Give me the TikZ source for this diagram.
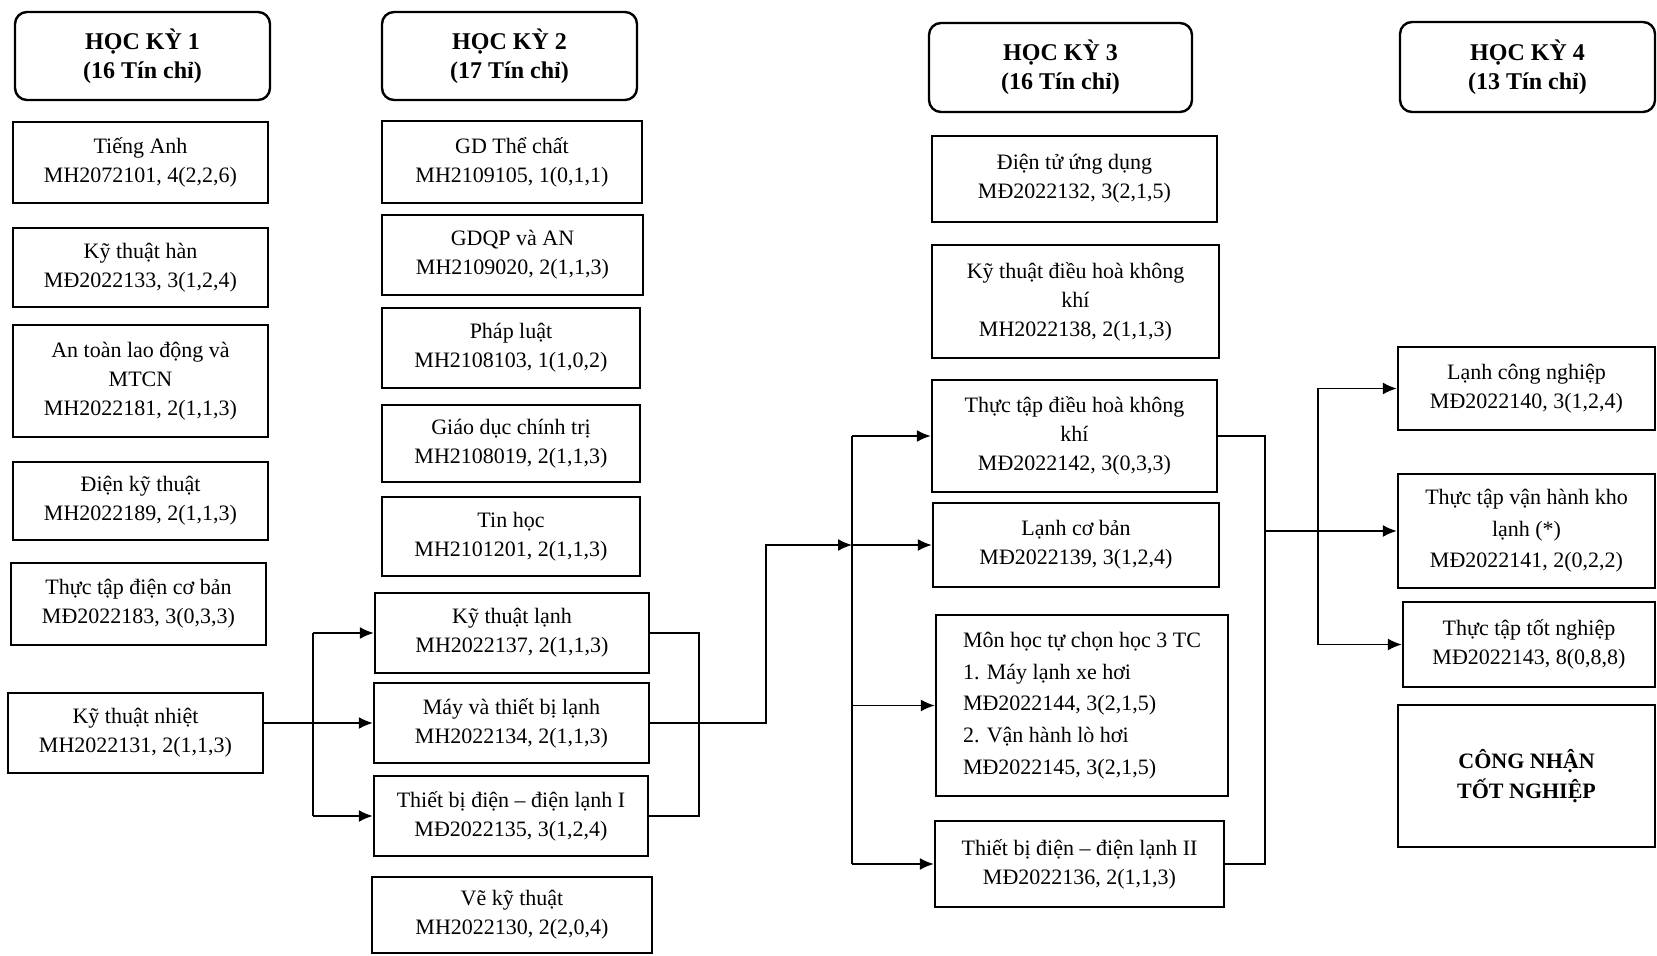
\documentclass[tikz,border=0pt]{standalone}
\usepackage{fontspec}
\setmainfont{Liberation Serif}
\usepackage{tikz}
\usetikzlibrary{arrows.meta}
\tikzstyle{course}=[draw,rectangle,line width=1.2pt,align=center,inner sep=2pt,font=\fontsize{11}{14.5}\selectfont]
\tikzstyle{semester}=[course,rounded corners=6pt,minimum width=127.5pt,minimum height=44pt,font=\fontsize{12}{14.5}\selectfont\bfseries]
\tikzstyle{link}=[line width=0.8pt]
\tikzstyle{arrow}=[link,-{Latex[length=7pt,width=6pt]}]

\begin{document}
\begin{tikzpicture}[x=0.5pt,y=-0.5pt]
\useasboundingbox (0,0) rectangle (1657,956);

% hoc ky 1
\node[semester] (h1) at (142.5,56) {HỌC KỲ 1\\(16 Tín chỉ)};
\node[course,minimum width=127.5pt,minimum height=40.5pt] (c11) at (140.5,162.5) {Tiếng Anh\\MH2072101, 4(2,2,6)};
\node[course,minimum width=127.5pt,minimum height=39.5pt] (c12) at (140.5,267.5) {Kỹ thuật hàn\\MĐ2022133, 3(1,2,4)};
\node[course,minimum width=127.5pt,minimum height=56pt] (c13) at (140.5,381) {An toàn lao động và\\MTCN\\MH2022181, 2(1,1,3)};
\node[course,minimum width=127.5pt,minimum height=39pt] (c14) at (140.5,501) {Điện kỹ thuật\\MH2022189, 2(1,1,3)};
\node[course,minimum width=127.5pt,minimum height=41pt] (c15) at (138.5,604) {Thực tập điện cơ bản\\MĐ2022183, 3(0,3,3)};
\node[course,minimum width=127.5pt,minimum height=40pt] (c16) at (135.5,733) {Kỹ thuật nhiệt\\MH2022131, 2(1,1,3)};

% hoc ky 2
\node[semester] (h2) at (509.5,56) {HỌC KỲ 2\\(17 Tín chỉ)};
\node[course,minimum width=130pt,minimum height=41pt] (c21) at (512,162) {GD Thể chất\\MH2109105, 1(0,1,1)};
\node[course,minimum width=130.5pt,minimum height=40pt] (c22) at (512.5,255) {GDQP và AN\\MH2109020, 2(1,1,3)};
\node[course,minimum width=129pt,minimum height=40pt] (c23) at (511,348) {Pháp luật\\MH2108103, 1(1,0,2)};
\node[course,minimum width=129pt,minimum height=38.5pt] (c24) at (511,443.5) {Giáo dục chính trị\\MH2108019, 2(1,1,3)};
\node[course,minimum width=129pt,minimum height=39.5pt] (c25) at (511,536.5) {Tin học\\MH2101201, 2(1,1,3)};
\node[course,minimum width=137pt,minimum height=40pt] (c26) at (512,633) {Kỹ thuật lạnh\\MH2022137, 2(1,1,3)};
\node[course,minimum width=137.5pt,minimum height=40pt] (c27) at (511.5,723) {Máy và thiết bị lạnh\\MH2022134, 2(1,1,3)};
\node[course,minimum width=137pt,minimum height=40pt] (c28) at (511,816) {Thiết bị điện – điện lạnh I\\MĐ2022135, 3(1,2,4)};
\node[course,minimum width=140pt,minimum height=38pt] (c29) at (512,915) {Vẽ kỹ thuật\\MH2022130, 2(2,0,4)};

% hoc ky 3
\node[semester,minimum width=131.5pt,minimum height=44.5pt] (h3) at (1060.5,67.5) {HỌC KỲ 3\\(16 Tín chỉ)};
\node[course,minimum width=142.5pt,minimum height=43pt] (c31) at (1074.5,179) {Điện tử ứng dụng\\MĐ2022132, 3(2,1,5)};
\node[course,minimum width=143.5pt,minimum height=56.5pt] (c32) at (1075.5,301.5) {Kỹ thuật điều hoà không\\khí\\MH2022138, 2(1,1,3)};
\node[course,minimum width=142.5pt,minimum height=56pt] (c33) at (1074.5,436) {Thực tập điều hoà không\\khí\\MĐ2022142, 3(0,3,3)};
\node[course,minimum width=143pt,minimum height=42pt] (c34) at (1076,545) {Lạnh cơ bản\\MĐ2022139, 3(1,2,4)};
\node[course,minimum width=146pt,minimum height=90.5pt,align=left,font=\fontsize{11}{15.8}\selectfont] (c35) at (1082,705.5) {Môn học tự chọn học 3 TC\\1. Máy lạnh xe hơi\\MĐ2022144, 3(2,1,5)\\2. Vận hành lò hơi\\MĐ2022145, 3(2,1,5)};
\node[course,minimum width=144.5pt,minimum height=43pt] (c36) at (1079.5,864) {Thiết bị điện – điện lạnh II\\MĐ2022136, 2(1,1,3)};

% hoc ky 4
\node[semester,minimum height=45pt] (h4) at (1527.5,67) {HỌC KỲ 4\\(13 Tín chỉ)};
\node[course,minimum width=128.5pt,minimum height=41.5pt] (c41) at (1526.5,388.5) {Lạnh công nghiệp\\MĐ2022140, 3(1,2,4)};
\node[course,minimum width=128.5pt,minimum height=57pt,font=\fontsize{11}{15.8}\selectfont] (c42) at (1526.5,531) {Thực tập vận hành kho\\lạnh (*)\\MĐ2022141, 2(0,2,2)};
\node[course,minimum width=126pt,minimum height=42.5pt] (c43) at (1529,644.5) {Thực tập tốt nghiệp\\MĐ2022143, 8(0,8,8)};
\node[course,minimum width=128.5pt,minimum height=71pt,font=\fontsize{11}{15}\selectfont\bfseries] (c44) at (1526.5,776) {CÔNG NHẬN\\TỐT NGHIỆP};

% hoc ky 1 -> hoc ky 2
\coordinate (bus1) at (313,723);
\draw[arrow] (c16.east |- c27.west) -- (c27.west);
\draw[link] (bus1 |- c26.west) -- (bus1 |- c28.west);
\draw[arrow] (bus1 |- c26.west) -- (c26.west);
\draw[arrow] (bus1 |- c28.west) -- (c28.west);

% hoc ky 2 -> hoc ky 3
\coordinate (bus2) at (699,723);
\coordinate (turn1) at (766,723);
\coordinate (bus3) at (852,545);
\draw[link] (c26.east) -| (bus2) |- (c28.east);
\draw[arrow] (c27.east) -- (turn1) |- (bus3);
\draw[link] (bus3 |- c33.west) -- (bus3 |- c36.west);
\draw[arrow] (bus3 |- c33.west) -- (c33.west);
\draw[arrow] (bus3 |- c34.west) -- (c34.west);
\draw[arrow] (bus3 |- c35.west) -- (c35.west);
\draw[arrow] (bus3 |- c36.west) -- (c36.west);

% hoc ky 3 -> hoc ky 4
\coordinate (bus4) at (1265,531);
\coordinate (bus5) at (1318,531);
\draw[link] (c33.east) -| (bus4) |- (c36.east);
\draw[arrow] (bus4) -- (c42.west);
\draw[link] (bus5 |- c41.west) -- (bus5 |- c43.west);
\draw[arrow] (bus5 |- c41.west) -- (c41.west);
\draw[arrow] (bus5 |- c43.west) -- (c43.west);

\end{tikzpicture}
\end{document}
